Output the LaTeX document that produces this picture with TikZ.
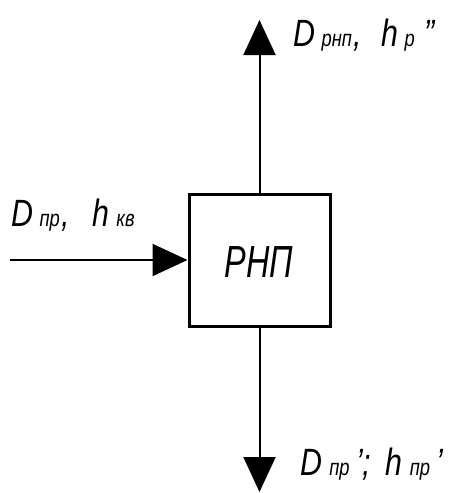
\documentclass[tikz,border=0pt]{standalone}
\usepackage{fontspec}
\setmainfont{Liberation Sans}
\usetikzlibrary{arrows.meta}
\newcommand{\Bg}{\fontsize{38}{42}\selectfont\itshape}
\newcommand{\Sm}{\fontsize{23}{26}\selectfont\itshape}
\newcommand{\gp}[1]{\hspace*{#1pt}}
\tikzset{
  flow/.style={line width=2pt, -{Triangle[length=35pt,width=32pt]}},
  blockbox/.style={draw, line width=3pt, minimum width=141pt, minimum height=132pt, inner sep=0pt},
  lbl/.style={anchor=base west, inner sep=0pt}
}
\begin{document}
\begin{tikzpicture}[x=1pt,y=-1pt]
\useasboundingbox (0,0) rectangle (454,493);
\node[blockbox] (rnp) at (259.5,260) {};
\node[inner sep=0pt] (rnptxt) at (259,262) {\scalebox{0.72}[1]{\fontsize{45}{50}\selectfont\itshape РНП}};
\coordinate (topend) at (259.5,20);
\coordinate (botend) at (259.5,492);
\coordinate (leftstart) at (10,260);
\draw[flow] (rnp.north) -- (topend);
\draw[flow] (rnp.south) -- (botend);
\draw[flow] (leftstart) -- (rnp.west);
\node[lbl] (toplbl) at (293,46) {\scalebox{0.8}[1]{\Bg D\gp{8}{\Sm рнп}\gp{2},\gp{24}h\gp{8}{\Sm р}\gp{12}{\Bg''}}};
\node[lbl] (leftlbl) at (11,226) {\scalebox{0.8}[1]{\Bg D\gp{8}{\Sm пр}\gp{2},\gp{28}h\gp{9}{\Sm кв}}};
\node[lbl] (botlbl) at (300,475) {\scalebox{0.8}[1]{\Bg D\gp{9}{\Sm пр}\gp{8}{\Bg'};\gp{18}h\gp{9}{\Sm пр}\gp{8}{\Bg'}}};
\end{tikzpicture}
\end{document}
